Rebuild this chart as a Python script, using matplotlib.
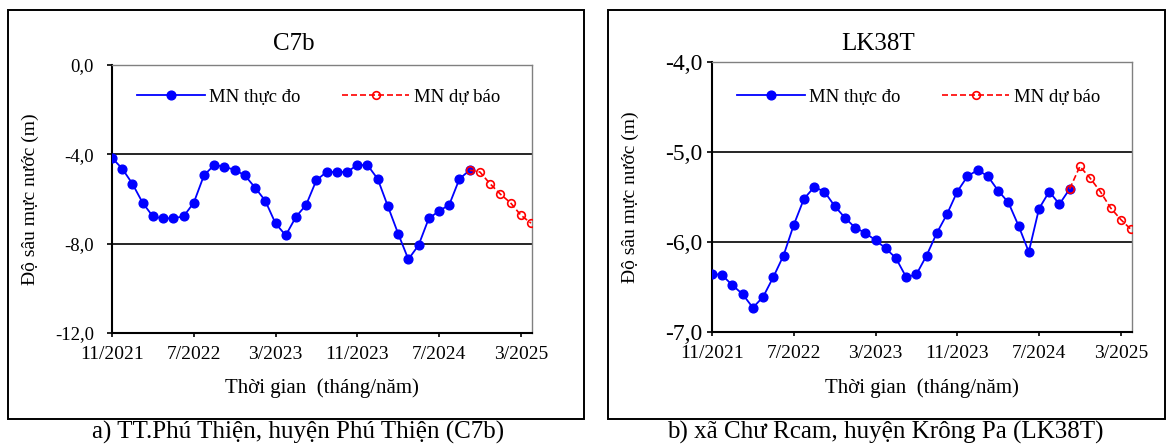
import matplotlib
matplotlib.use("Agg")
import matplotlib.pyplot as plt
from matplotlib.patches import Rectangle
import numpy as np

plt.rcParams['font.family'] = ['Liberation Serif', 'DejaVu Serif']

# ---------------- data ----------------
month_labels = ["11/2021", "7/2022", "3/2023", "11/2023", "7/2024", "3/2025"]
tick_months = [0, 8, 16, 24, 32, 40]          # month index from 11/2021

obs_months = list(range(0, 36))               # 11/2021 .. 10/2024
fc_months = list(range(35, 42))               # 10/2024 .. 4/2025

c7b_obs = [-4.16, -4.64, -5.32, -6.17, -6.78, -6.87, -6.86, -6.78, -6.17, -4.94,
           -4.48, -4.55, -4.70, -4.94, -5.49, -6.08, -7.09, -7.63, -6.80, -6.26,
           -5.16, -4.79, -4.79, -4.79, -4.48, -4.48, -5.10, -6.33, -7.55, -8.70,
           -8.07, -6.87, -6.54, -6.26, -5.10, -4.71]
c7b_fc = [-4.71, -4.79, -5.32, -5.78, -6.17, -6.72, -7.08]

lk38t_obs = [-6.35, -6.37, -6.48, -6.58, -6.73, -6.61, -6.39, -6.15, -5.81, -5.52,
             -5.39, -5.44, -5.60, -5.73, -5.84, -5.90, -5.98, -6.07, -6.18, -6.39,
             -6.36, -6.15, -5.90, -5.69, -5.44, -5.27, -5.20, -5.27, -5.43, -5.56,
             -5.82, -6.11, -5.63, -5.44, -5.58, -5.41]
lk38t_fc = [-5.41, -5.16, -5.29, -5.44, -5.62, -5.75, -5.86]

c7b_yticks = [0.0, -4.0, -8.0, -12.0]
lk38t_yticks = [-4.0, -5.0, -6.0, -7.0]

titles = ["C7b", "LK38T"]
captions = ["a) TT.Phú Thiện, huyện Phú Thiện (C7b)",
            "b) xã Chư Rcam, huyện Krông Pa (LK38T)"]
leg_obs = "MN thực đo"
leg_fc = "MN dự báo"
ylabel = "Độ sâu mực nước (m)"
xlabel = "Thời gian  (tháng/năm)"

# ---------------- figure ----------------
W, H = 1172, 446
fig = plt.figure(figsize=(W / 100, H / 100), dpi=100)


def fx(px):
    return px / W


def fy(py):
    return 1 - py / H


# outer frames
for (x0, x1) in [(8, 584), (608, 1165)]:
    fig.add_artist(Rectangle((fx(x0), fy(419)), fx(x1) - fx(x0), fy(10) - fy(419),
                             transform=fig.transFigure, fill=False,
                             edgecolor='black', linewidth=1.4))

panels = [
    dict(box=(112, 532, 65, 333), obs=c7b_obs, fc=c7b_fc, yt=c7b_yticks,
         title=titles[0], tx=294, cap=captions[0], cx=298, ysz=13.5, ypad=9.5,
         ylx=39),
    dict(box=(712, 1132, 62, 332), obs=lk38t_obs, fc=lk38t_fc, yt=lk38t_yticks,
         title=titles[1], tx=878, cap=captions[1], cx=885, ysz=17, ypad=3,
         ylx=639),
]

for p in panels:
    l, r, t, b = p['box']
    ax = fig.add_axes([fx(l), fy(b), fx(r) - fx(l), fy(t) - fy(b)])
    yt = p['yt']
    ax.set_ylim(min(yt), max(yt))
    ax.set_xlim(0, 41.1)
    for v in yt[1:-1]:
        ax.axhline(v, color='black', lw=1.2, zorder=1)

    ax.plot(obs_months, p['obs'], color='#0000FF', lw=1.3, marker='o',
            markersize=6.3, markerfacecolor='#0000FF', markeredgecolor='#0000FF',
            label=leg_obs, zorder=3)
    ax.plot(fc_months, p['fc'], color='#FF0000', lw=1.2, linestyle=(0, (3.6, 1.8)),
            marker='o', markersize=5.5, markerfacecolor='none',
            markeredgecolor='#FF0000', markeredgewidth=1.2, label=leg_fc, zorder=4)

    ax.set_yticks(yt)
    ax.set_yticklabels([f"{v:.1f}".replace('.', ',') for v in yt])
    ax.set_xticks(tick_months)
    ax.set_xticklabels(month_labels)
    ax.tick_params(axis='y', direction='out', length=3.6, width=1.2,
                   labelsize=p['ysz'], pad=p['ypad'])
    ax.tick_params(axis='x', direction='out', length=3.0, width=1.2,
                   labelsize=14, pad=6.5)

    for s in ['left', 'bottom']:
        ax.spines[s].set_color('black')
        ax.spines[s].set_linewidth(1.5)
    for s in ['top', 'right']:
        ax.spines[s].set_color('#808080')
        ax.spines[s].set_linewidth(1.0)

    ax.set_ylabel(ylabel, fontsize=14)
    ax.yaxis.set_label_coords((p['ylx'] - l) / (r - l), 0.5)
    ax.set_xlabel(xlabel, fontsize=15)
    ax.xaxis.label.set_va('center')
    ax.xaxis.set_label_coords(0.5, -(388 - b) / (b - t))

    leg_y = (b - 97) / (b - t)
    ax.legend(loc='center left', bbox_to_anchor=(25 / 420, leg_y), ncol=2,
              frameon=False, fontsize=13.5, handlelength=3.6, handletextpad=0.25,
              columnspacing=2.2, borderpad=0, borderaxespad=0, numpoints=1)

    fig.text(fx(p['tx']), fy(44), p['title'], ha='center', va='center', fontsize=18)
    fig.text(fx(p['cx']), fy(439), p['cap'], ha='center', va='baseline',
             fontsize=18)

fig.savefig("out.png", dpi=100)
